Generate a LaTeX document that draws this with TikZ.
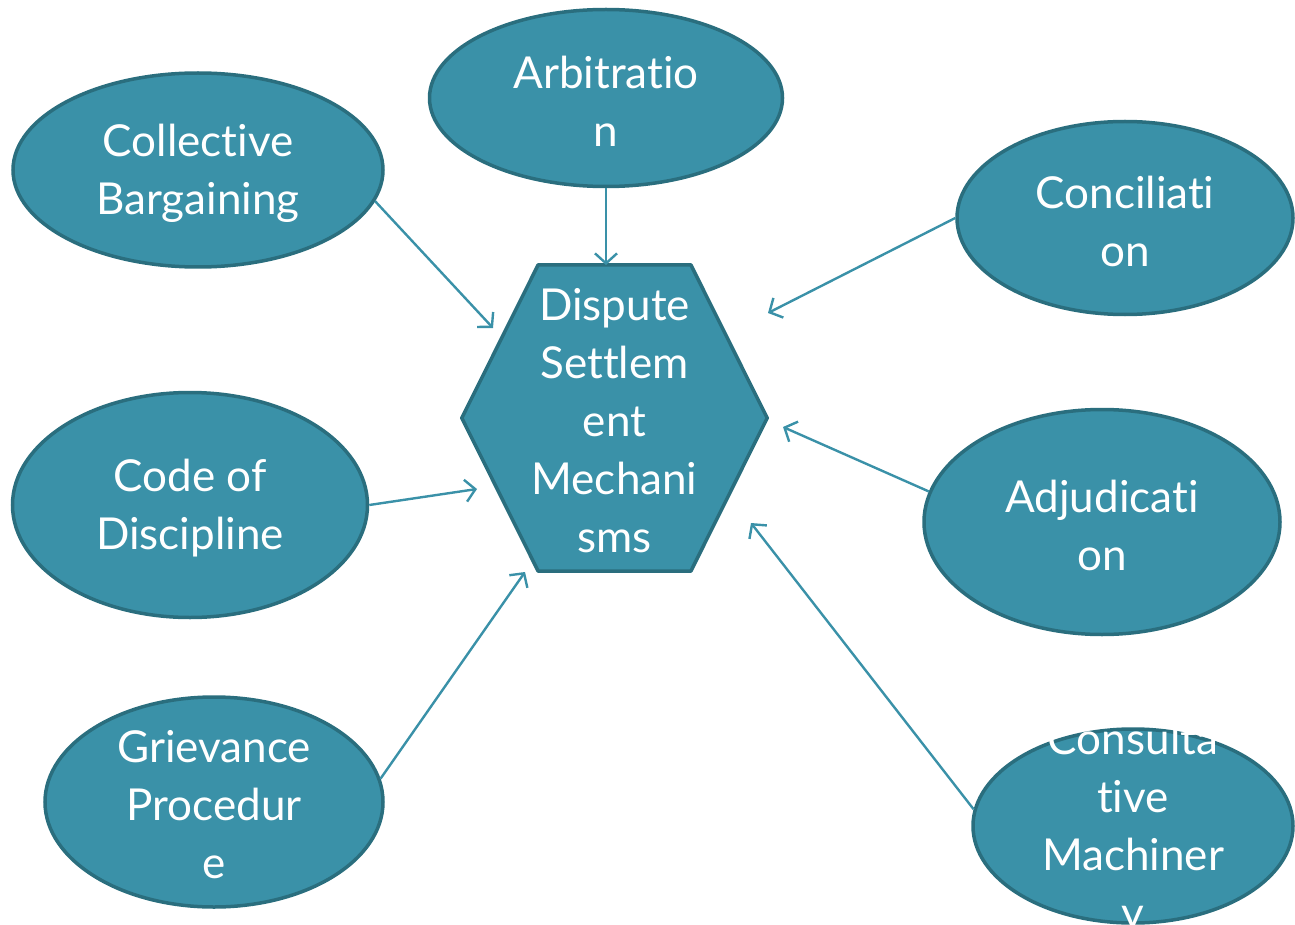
\documentclass[tikz,border=0pt]{standalone}
\usepackage{fontspec}
\setmainfont{Lato}[Ligatures=NoCommon]
\usetikzlibrary{arrows.meta,calc,shapes.geometric}
\definecolor{tealfill}{HTML}{3A91A8}
\definecolor{tealedge}{HTML}{2A6E7E}
\tikzset{
	blob/.style={ellipse, draw=tealedge, fill=tealfill, line width=3.5pt, inner sep=0pt},
	lbl/.style={text=white, align=center, inner sep=0pt, yshift=-3pt, font=\fontsize{44}{58}\selectfont},
	feed/.style={draw=tealfill, line width=2.4pt, -{Straight Barb[length=10pt,width=22pt]}}
}

\begin{document}
\begin{tikzpicture}[x={(1pt,0)}, y={(0,-1pt)}]
		\useasboundingbox (0,0) rectangle (1295,925);
		% outer mechanisms
		\node[blob, minimum width=370, minimum height=194] (cb) at (198,170) {};
		\node[blob, minimum width=353, minimum height=177] (arb) at (606,98) {};
		\node[blob, minimum width=336, minimum height=193] (con) at (1125,218) {};
		\node[blob, minimum width=355, minimum height=225] (cod) at (190,505) {};
		\node[blob, minimum width=356, minimum height=225] (adj) at (1102,522) {};
		\node[blob, minimum width=338, minimum height=210] (gri) at (214,802) {};
		\node[blob, minimum width=320, minimum height=194] (cmy) at (1133,826) {};
		\node[lbl] (cbt) at (cb) {Collective\\Bargaining};
		\node[lbl] (arbt) at (arb) {Arbitratio\\n};
		\node[lbl] (cont) at (con) {Conciliati\\on};
		\node[lbl] (codt) at (cod) {Code of\\Discipline};
		\node[lbl] (adjt) at (adj) {Adjudicati\\on};
		\node[lbl] (grit) at (gri) {Grievance\\Procedur\\e};
		\node[lbl] (cmyt) at (cmy) {Consulta\\tive\\Machiner\\y};
		% centre hexagon
		\node[minimum width=305, minimum height=306, inner sep=0pt] (hex) at (614.5,418) {};
		\filldraw[draw=tealedge, fill=tealfill, line width=3.5pt, line join=round]
			(hex.west) -- ($(hex.north west)!0.25!(hex.north east)$)
			-- ($(hex.north west)!0.75!(hex.north east)$) -- (hex.east)
			-- ($(hex.south west)!0.75!(hex.south east)$)
			-- ($(hex.south west)!0.25!(hex.south east)$) -- cycle;
		\node[lbl] (hext) at (hex) {Dispute\\Settlem\\ent\\Mechani\\sms};
		% arrow tips
		\coordinate (t1) at (493,328);
		\coordinate (t2) at (606,265);
		\coordinate (t3) at (768,313);
		\coordinate (t4) at (477,489);
		\coordinate (t5) at (783,427);
		\coordinate (t6) at (525,572);
		\coordinate (t7) at (751,523);
		\draw[feed] (cb.-10) -- (t1);
		\draw[feed] (arb.south) -- (t2);
		\draw[feed] (con.west) -- (t3);
		\draw[feed] (cod.east) -- (t4);
		\draw[feed] (adj.170) -- (t5);
		\draw[feed] (gri.8) -- (t6);
		\draw[feed] (cmy.174) -- (t7);
	\end{tikzpicture}
\end{document}
